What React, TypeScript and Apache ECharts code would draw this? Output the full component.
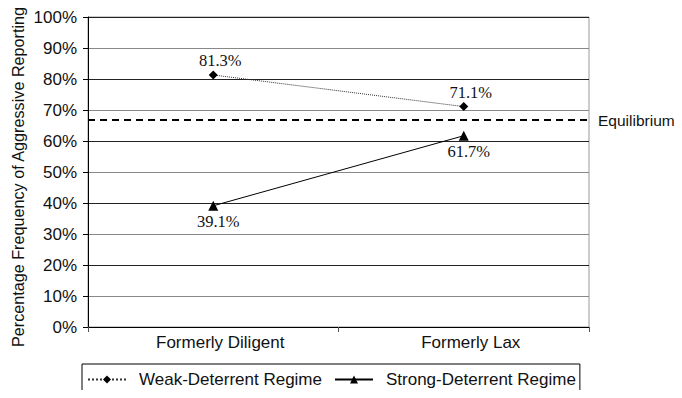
import React, { useEffect, useRef } from "react";
import * as echarts from "echarts";

const categories = ["Formerly Diligent", "Formerly Lax"];
const weakDeterrent = [81.3, 71.1];
const strongDeterrent = [39.1, 61.7];
const equilibrium = 66.7;
const yTicks = [0, 10, 20, 30, 40, 50, 60, 70, 80, 90, 100];
const yTitle = "Percentage Frequency of Aggressive Reporting";

export default function App() {
  const ref = useRef<HTMLDivElement>(null);
  useEffect(() => {
    if (!ref.current) return;
    const chart = echarts.init(ref.current, undefined, { renderer: "svg" });
    const sans = "Liberation Sans, Arial, sans-serif";
    const serif = "Liberation Serif, Times New Roman, serif";
    chart.setOption({
      animation: false,
      backgroundColor: "#fff",
      grid: {
        left: 88,
        right: 93,
        top: 17,
        bottom: 71,
        show: true,
        borderColor: "#999",
        borderWidth: 1,
        containLabel: false,
        outerBoundsMode: "none",
      },
      graphic: [
        {
          type: "text",
          x: 18,
          y: 177,
          rotation: Math.PI / 2,
          style: {
            text: yTitle,
            fontFamily: sans,
            fontSize: 16.2,
            fill: "#111",
            align: "center",
            verticalAlign: "middle",
          },
        },
      ],
      legend: {
        data: ["Weak-Deterrent Regime", "Strong-Deterrent Regime"],
        left: 82,
        top: 364,
        itemWidth: 38,
        itemHeight: 10,
        itemGap: 12,
        padding: [7, 4, 7, 5],
        borderColor: "#000",
        borderWidth: 1,
        textStyle: { fontFamily: sans, fontSize: 17, color: "#111", padding: [0, 0, 0, 8] },
      },
      xAxis: {
        type: "category",
        data: categories,
        boundaryGap: true,
        axisLine: { lineStyle: { color: "#000", width: 1 } },
        axisTick: { show: true, length: 5, lineStyle: { color: "#555" } },
        axisLabel: { fontFamily: sans, fontSize: 17, color: "#111", margin: 7, padding: [0, 0, 0, 14] },
        splitLine: { show: false },
      },
      yAxis: {
        type: "value",
        min: 0,
        max: 100,
        interval: 10,
        axisLine: { show: true, lineStyle: { color: "#000", width: 1 } },
        axisTick: { show: true, length: 5, inside: false, lineStyle: { color: "#000" } },
        axisLabel: {
          fontFamily: sans,
          fontSize: 17,
          color: "#111",
          margin: 11,
          formatter: (v: number) => (yTicks.includes(v) ? v + "%" : ""),
        },
        splitLine: { show: true, lineStyle: { color: ["#222", "#888"], width: 1 } },
      },
      series: [
        {
          name: "Weak-Deterrent Regime",
          type: "line",
          data: weakDeterrent,
          symbol: "diamond",
          symbolSize: 9,
          itemStyle: { color: "#000" },
          lineStyle: { color: "#333", width: 1, type: "dotted" },
          label: {
            show: true,
            position: "top",
            distance: 1,
            offset: [7, 0],
            formatter: (p: any) => p.value.toFixed(1) + "%",
            fontFamily: serif,
            fontSize: 16.5,
            color: "#111",
          },
          markLine: {
            silent: true,
            symbol: "none",
            data: [{ yAxis: equilibrium }],
            lineStyle: { color: "#000", width: 2, type: [7, 5] },
            label: {
              show: true,
              position: "end",
              formatter: "Equilibrium",
              fontFamily: sans,
              fontSize: 15.5,
              color: "#111",
              distance: 9,
            },
          },
          z: 3,
        },
        {
          name: "Strong-Deterrent Regime",
          type: "line",
          data: strongDeterrent,
          symbol: "triangle",
          symbolSize: 10,
          itemStyle: { color: "#000" },
          lineStyle: { color: "#000", width: 1, type: "solid" },
          label: {
            show: true,
            position: "bottom",
            distance: 2,
            offset: [5, 0],
            formatter: (p: any) => p.value.toFixed(1) + "%",
            fontFamily: serif,
            fontSize: 16.5,
            color: "#111",
          },
          z: 3,
        },
      ],
    });
    return () => chart.dispose();
  }, []);
  return <div ref={ref} style={{ width: 682, height: 398, margin: -8 }} />;
}
